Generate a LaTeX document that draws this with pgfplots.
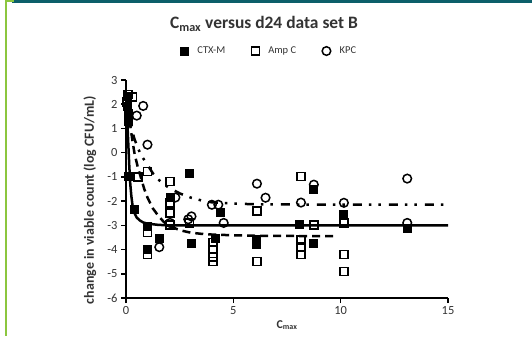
\documentclass[border=0pt]{standalone}
\usepackage{pgfplots}
\pgfplotsset{compat=1.18}
\usepackage{fontspec}
\setmainfont{Carlito}
\definecolor{topbar}{HTML}{0C5F6A}
\definecolor{leftbar}{HTML}{8CC63F}
\definecolor{txt}{HTML}{333333}
\begin{document}
\begin{tikzpicture}[x=1bp,y=1bp]
\path[use as bounding box] (0,0) rectangle (532,336);
\fill[white] (0,0) rectangle (532,336);
\fill[topbar] (12,333) rectangle (532,336);
\fill[leftbar] (5,0) rectangle (7,336);
\fill[leftbar] (5,334) rectangle (14,336);
\begin{axis}[
  at={(126bp,38bp)}, anchor=south west,
  scale only axis, width=322bp, height=218bp,
  xmin=0, xmax=15, ymin=-6, ymax=3,
  axis lines*=left,
  axis line style={black, line width=2.2bp},
  xtick={0,5,10,15}, ytick={-6,-5,-4,-3,-2,-1,0,1,2,3},
  tick style={black, line width=1.6bp},
  major tick length=5bp, tick align=outside,
  tick label style={font=\fontsize{12.5}{14}\selectfont, text=txt},
  /pgf/number format/assume math mode=true,
  clip=false,
  legend style={at={(0.445,1.133)}, anchor=center, draw=none, fill=none,
    legend columns=3, font=\fontsize{10.5}{12}\selectfont, text=txt,
    /tikz/every even column/.append style={column sep=24bp},
    /tikz/every odd column/.append style={column sep=7bp}},
]
% fitted curves
\addplot[forget plot, black, line width=2.5bp] coordinates {
 (0,2.4) (0.05,1.5) (0.1,0.5) (0.15,-0.5) (0.2,-1.3) (0.25,-1.8) (0.3,-2.15)
 (0.4,-2.5) (0.5,-2.68) (0.65,-2.8) (0.8,-2.88) (1.0,-2.93) (1.5,-2.98) (2,-3.0) (15,-3.0)};
\addplot[forget plot, black, line width=2.5bp, dash pattern=on 8bp off 5bp] coordinates {
 (0,2.4) (0.1,1.8) (0.2,1.1) (0.3,0.5) (0.4,-0.05) (0.55,-0.6) (0.7,-1.05) (0.85,-1.5)
 (1.0,-1.85) (1.25,-2.3) (1.5,-2.6) (1.75,-2.85) (2.0,-3.02) (2.5,-3.2) (3,-3.3)
 (3.5,-3.35) (4,-3.38) (5,-3.41) (6,-3.43) (8,-3.44) (9.8,-3.45)};
\addplot[forget plot, black, line width=2.5bp, dash pattern=on 9bp off 7bp on 2.5bp off 7bp on 2.5bp off 8bp] coordinates {
 (0,2.2) (0.1,1.7) (0.2,1.2) (0.3,0.85) (0.4,0.55) (0.55,0.2) (0.7,-0.1) (0.85,-0.3)
 (1.0,-0.5) (1.25,-0.85) (1.5,-1.1) (1.75,-1.3) (2.0,-1.45) (2.5,-1.68) (3,-1.85)
 (3.5,-1.97) (4,-2.05) (5,-2.1) (6,-2.13) (8,-2.14) (15,-2.15)};
% CTX-M
\addplot[only marks, mark=square*, mark size=4bp, black, mark options={line width=1pt}] coordinates {
 (0.05,2.3) (0.05,1.9) (0.1,1.6) (0.1,1.3) (0.1,-1.0) (0.4,-2.35) (1.0,-3.05) (1.0,-4.0)
 (1.55,-3.55) (2.05,-1.85) (2.95,-0.87) (3.05,-3.77) (4.15,-3.55) (4.4,-2.45)
 (6.1,-3.6) (6.1,-3.8) (8.1,-2.98) (8.75,-1.5) (8.75,-3.75) (10.15,-2.57) (13.1,-3.15)};
\addlegendentry{CTX-M}
% Amp C
\addplot[only marks, mark=square, mark size=4bp, black, mark options={line width=1.5bp}] coordinates {
 (0.1,2.4) (0.3,2.3) (0.05,2.1) (0.55,-1.0) (1.0,-0.78) (1.0,-3.3) (1.0,-4.2)
 (2.05,-1.2) (2.05,-2.07) (2.05,-2.5) (2.05,-2.98) (2.95,-2.9)
 (4.05,-3.7) (4.05,-4.0) (4.05,-4.3) (4.05,-4.5) (6.1,-2.4) (6.1,-4.5)
 (8.15,-0.98) (8.15,-3.6) (8.15,-3.9) (8.15,-4.2) (8.75,-2.98)
 (10.15,-2.9) (10.15,-4.2) (10.15,-4.9)};
\addlegendentry{Amp C}
% KPC
\addplot[only marks, mark=o, mark size=4.3bp, black, mark options={line width=1.5bp}] coordinates {
 (0.5,1.53) (0.8,1.93) (1.0,0.33) (1.55,-3.9) (2.05,-2.9) (2.3,-1.85) (2.9,-2.75)
 (3.05,-2.63) (4.0,-2.15) (4.3,-2.15) (4.55,-2.9) (6.1,-1.28) (6.5,-1.86)
 (8.15,-2.06) (8.75,-1.32) (10.15,-2.07) (13.1,-1.07) (13.1,-2.9)};
\addlegendentry{KPC}
\end{axis}
\node[font=\bfseries\fontsize{17.5}{20}\selectfont, text=txt] at (264,312) {C\textsubscript{max} versus d24 data set B};
\node[font=\bfseries\fontsize{14}{16}\selectfont, text=txt, rotate=90] at (90,136) {change in viable count (log CFU/mL)};
\node[font=\bfseries\fontsize{12}{14}\selectfont, text=txt] at (287,11) {C\textsubscript{max}};
\end{tikzpicture}
\end{document}
